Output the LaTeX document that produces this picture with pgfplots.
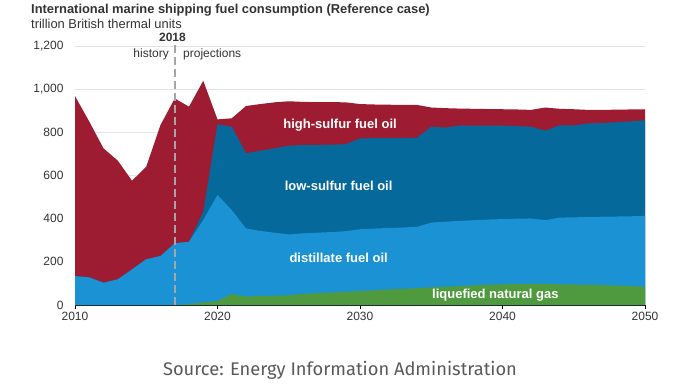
\documentclass[border=0pt]{standalone}
\usepackage{pgfplots}
\pgfplotsset{compat=1.18}
\usepackage{pgfplotstable}
\usepackage{fontspec}
\setmainfont{Liberation Sans}
\newfontfamily\srcfont{Fira Sans}
\definecolor{hsred}{HTML}{9D1C32}
\definecolor{lsblue}{HTML}{05699B}
\definecolor{dblue}{HTML}{1B92D3}
\definecolor{lngreen}{HTML}{4F9A3E}
\definecolor{gridgray}{HTML}{E3E3E3}
\definecolor{txt}{HTML}{333333}
\pgfplotstableread{
year total ls dist lng
2010 968 134 134 0
2011 850 128 128 0
2012 726 103 103 0
2013 669 119 119 0
2014 576 165 165 0
2015 641 212 212 0
2016 834 227 227 0
2017 957 286 286 0
2018 919 293 293 5
2019 1039 432 394 12
2020 860 837 510 19
2021 865 826 440 51
2022 922 703 355 39
2023 931 715 343 42
2024 939 726 335 43
2025 944 738 327 45
2026 941 741 332 51
2027 940 742 335 55
2028 940 743 338 58
2029 939 745 342 61
2030 931 772 351 65
2031 929 773 354 68
2032 928 773 357 72
2033 927 774 359 75
2034 927 775 362 78
2035 915 826 382 82
2036 912 822 386 85
2037 910 832 390 88
2038 909 831 393 91
2039 908 831 396 94
2040 907 831 398 96
2041 906 829 400 97
2042 904 826 401 98
2043 915 808 393 97
2044 909 832 405 96
2045 907 832 406 95
2046 904 841 408 94
2047 904 843 409 92
2048 905 847 410 90
2049 906 851 411 88
2050 907 856 413 85
}\data
\begin{document}
\begin{tikzpicture}
\path[use as bounding box] (0pt,0pt) rectangle (679pt,384pt);
\begin{axis}[
  at={(75pt,79pt)}, anchor=south west,
  scale only axis, width=570pt, height=259pt,
  xmin=2010, xmax=2050, ymin=0, ymax=1200,
  clip=false,
  axis x line*=bottom, axis y line*=left,
  y axis line style={draw=none},
  x axis line style={black, line width=1pt},
  xtick={2010,2020,2030,2040,2050},
  ytick={0,200,400,600,800,1000,1200},
  ymajorgrids, grid style={gridgray, line width=1pt},
  tick align=outside, major tick length=4pt,
  xtick style={black, line width=0.8pt},
  ytick style={draw=none},
  /pgf/number format/assume math mode=true,
  x tick label style={/pgf/number format/1000 sep={}, font=\fontsize{12}{14}\selectfont, text=txt},
  y tick label style={/pgf/number format/1000 sep={,}, font=\fontsize{12}{14}\selectfont, text=txt},
  yticklabel style={xshift=-4pt},
]
\addplot[fill=hsred, draw=none] table[x=year, y=total] {\data} \closedcycle;
\addplot[fill=lsblue, draw=none] table[x=year, y=ls] {\data} \closedcycle;
\addplot[fill=dblue, draw=none] table[x=year, y=dist] {\data} \closedcycle;
\addplot[fill=lngreen, draw=none] table[x=year, y=lng] {\data} \closedcycle;
\draw[gray!70, line width=1.5pt, dash pattern=on 8pt off 4pt] (axis cs:2017,0) -- (axis cs:2017,1212);
\node[white, font=\bfseries\fontsize{13}{15}\selectfont] at (axis cs:2028.6,834) {high-sulfur fuel oil};
\node[white, font=\bfseries\fontsize{13}{15}\selectfont] at (axis cs:2028.5,551) {low-sulfur fuel oil};
\node[white, font=\bfseries\fontsize{13}{15}\selectfont] at (axis cs:2028.5,218) {distillate fuel oil};
\node[white, font=\bfseries\fontsize{13}{15}\selectfont] at (axis cs:2039.5,46) {liquefied natural gas};
\end{axis}
\node[anchor=base west, inner sep=0, font=\bfseries\fontsize{12.9}{15}\selectfont, text=txt] at (31pt,370.5pt) {International marine shipping fuel consumption (Reference case)};
\node[anchor=base west, inner sep=0, font=\fontsize{12.9}{15}\selectfont, text=txt] at (31pt,355.7pt) {trillion British thermal units};
\node[anchor=base, inner sep=0, font=\bfseries\fontsize{12}{14}\selectfont, text=txt] at (172.5pt,342.3pt) {2018};
\node[anchor=base east, inner sep=0, font=\fontsize{12}{14}\selectfont, text=txt] at (169pt,326.7pt) {history};
\node[anchor=base west, inner sep=0, font=\fontsize{12}{14}\selectfont, text=txt] at (183pt,326.7pt) {projections};
\node[anchor=base, inner sep=0, font=\srcfont\fontsize{18.3}{21}\selectfont, text=black!65] at (340pt,9pt) {Source: Energy Information Administration};
\end{tikzpicture}
\end{document}
